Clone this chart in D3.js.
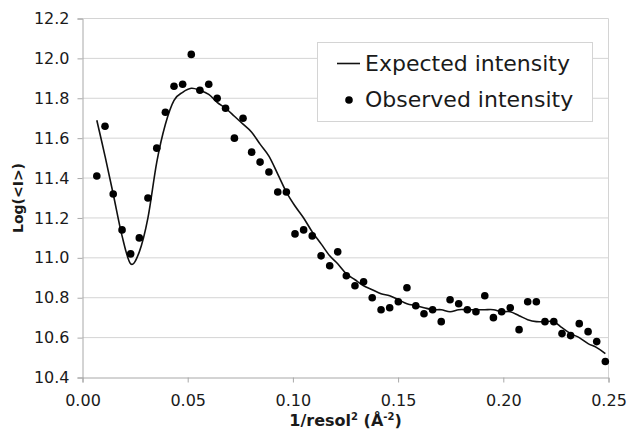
<!DOCTYPE html>
<html>
<head>
	<meta charset="utf-8">
	<script src="https://cdn.jsdelivr.net/npm/d3@7"></script>
	<style>
		body { margin: 0; background: #fff; }
		text { font-family: "DejaVu Sans", Verdana, sans-serif; fill: #1a1a1a; }
	</style>
</head>
<body>
<script>

	// observed points (1/resol^2, log<I>)
	var obsX = [0.0068, 0.0107, 0.0146, 0.0188, 0.0229, 0.0270, 0.0311, 0.0353, 0.0394, 0.0435,
		0.0476, 0.0517, 0.0558, 0.0600, 0.0640, 0.0680, 0.0722, 0.0763, 0.0804, 0.0844,
		0.0886, 0.0928, 0.0969, 0.1010, 0.1051, 0.1092, 0.1134, 0.1175, 0.1213, 0.1254,
		0.1295, 0.1336, 0.1377, 0.1419, 0.1460, 0.1501, 0.1542, 0.1584, 0.1623, 0.1664,
		0.1705, 0.1747, 0.1788, 0.1829, 0.1870, 0.1912, 0.1953, 0.1992, 0.2033, 0.2075,
		0.2116, 0.2157, 0.2198, 0.2240, 0.2279, 0.2320, 0.2361, 0.2403, 0.2444, 0.2485];
	var obsY = [11.41, 11.66, 11.32, 11.14, 11.02, 11.10, 11.30, 11.55, 11.73, 11.86,
		11.87, 12.02, 11.84, 11.87, 11.80, 11.75, 11.60, 11.70, 11.53, 11.48,
		11.43, 11.33, 11.33, 11.12, 11.14, 11.11, 11.01, 10.96, 11.03, 10.91,
		10.86, 10.88, 10.80, 10.74, 10.75, 10.78, 10.85, 10.76, 10.72, 10.74,
		10.68, 10.79, 10.77, 10.74, 10.73, 10.81, 10.70, 10.73, 10.75, 10.64,
		10.78, 10.78, 10.68, 10.68, 10.62, 10.61, 10.67, 10.63, 10.58, 10.48];
	// expected curve, same x positions
	var expY = [11.69, 11.51, 11.32, 11.11, 10.97, 11.03, 11.20, 11.48, 11.67, 11.79,
		11.83, 11.85, 11.84, 11.82, 11.78, 11.75, 11.71, 11.67, 11.63, 11.57,
		11.51, 11.42, 11.33, 11.26, 11.20, 11.13, 11.07, 11.01, 10.97, 10.92,
		10.89, 10.86, 10.84, 10.82, 10.81, 10.79, 10.77, 10.76, 10.75, 10.74,
		10.74, 10.73, 10.74, 10.74, 10.74, 10.74, 10.74, 10.73, 10.73, 10.71,
		10.69, 10.68, 10.68, 10.68, 10.65, 10.62, 10.60, 10.57, 10.55, 10.52];

	var xTicks = [0, 0.05, 0.10, 0.15, 0.20, 0.25];
	var yTicks = [10.4, 10.6, 10.8, 11.0, 11.2, 11.4, 11.6, 11.8, 12.0, 12.2];

	var svgWidth = 627, svgHeight = 429;
	var plotL = 82.5, plotR = 608.5, plotT = 18.5, plotB = 377.5;

	var svg = d3.select('body').append('svg')
		.attr('width', svgWidth)
		.attr('height', svgHeight);

	var xScale = d3.scaleLinear().domain([0, 0.25]).range([plotL, plotR]);
	var yScale = d3.scaleLinear().domain([10.4, 12.2]).range([plotB, plotT]);

	// gridlines
	svg.append('g').selectAll('line')
		.data(yTicks.slice(1))
		.enter().append('line')
		.attr('x1', plotL).attr('x2', plotR)
		.attr('y1', function (d) { return yScale(d); })
		.attr('y2', function (d) { return yScale(d); })
		.attr('stroke', '#d4d4d4');

	// right border
	svg.append('line')
		.attr('x1', plotR).attr('x2', plotR)
		.attr('y1', plotT).attr('y2', plotB)
		.attr('stroke', '#d4d4d4');

	var xAxis = svg.append('g')
		.attr('transform', 'translate(0,' + plotB + ')')
		.call(d3.axisBottom(xScale).tickValues(xTicks).tickSize(5).tickPadding(12)
			.tickFormat(d3.format('.2f')));
	var yAxis = svg.append('g')
		.attr('transform', 'translate(' + plotL + ',0)')
		.call(d3.axisLeft(yScale).tickValues(yTicks).tickSize(5).tickPadding(8)
			.tickFormat(d3.format('.1f')));

	[xAxis, yAxis].forEach(function (a) {
		a.select('.domain').attr('stroke', '#a8a8a8');
		a.selectAll('.tick line').attr('stroke', '#a8a8a8');
		a.selectAll('.tick text')
			.style('font-family', '"DejaVu Sans", Verdana, sans-serif')
			.style('font-size', '16px')
			.attr('fill', '#1a1a1a');
	});

	// expected line (smoothed like the spreadsheet)
	var pts = obsX.map(function (x, i) { return [x, expY[i]]; });
	svg.append('path')
		.datum(pts)
		.attr('fill', 'none')
		.attr('stroke', '#111')
		.attr('stroke-width', 1.6)
		.attr('d', d3.line()
			.x(function (d) { return xScale(d[0]); })
			.y(function (d) { return yScale(d[1]); })
			.curve(d3.curveCardinal.tension(0)));

	// observed dots
	svg.append('g').selectAll('circle')
		.data(obsX)
		.enter().append('circle')
		.attr('cx', function (d) { return xScale(d); })
		.attr('cy', function (d, i) { return yScale(obsY[i]); })
		.attr('r', 3.8)
		.attr('fill', '#000');

	// axis titles
	svg.append('text')
		.attr('transform', 'translate(23,' + ((plotT + plotB) / 2) + ') rotate(-90)')
		.attr('text-anchor', 'middle')
		.style('font-size', '14px')
		.style('font-weight', 'bold')
		.text('Log(<I>)');

	var xt = svg.append('text')
		.attr('x', (plotL + plotR) / 2)
		.attr('y', 426)
		.attr('text-anchor', 'middle')
		.style('font-size', '16px')
		.style('font-weight', 'bold');
	xt.append('tspan').text('1/resol');
	xt.append('tspan').attr('dy', -6).style('font-size', '10px').text('2');
	xt.append('tspan').attr('dy', 6).text(' (Å');
	xt.append('tspan').attr('dy', -6).style('font-size', '10px').text('-2');
	xt.append('tspan').attr('dy', 6).text(')');

	// legend
	var lg = svg.append('g');
	lg.append('rect')
		.attr('x', 317.5).attr('y', 42.5)
		.attr('width', 275).attr('height', 79)
		.attr('fill', '#fff')
		.attr('stroke', '#d4d4d4');
	lg.append('line')
		.attr('x1', 337).attr('x2', 360)
		.attr('y1', 63.5).attr('y2', 63.5)
		.attr('stroke', '#111').attr('stroke-width', 1.6);
	lg.append('circle')
		.attr('cx', 349).attr('cy', 100).attr('r', 3.8).attr('fill', '#000');
	lg.append('text').attr('x', 365).attr('y', 71)
		.style('font-size', '22px').text('Expected intensity');
	lg.append('text').attr('x', 365).attr('y', 107)
		.style('font-size', '22px').text('Observed intensity');

</script>
</body>
</html>
